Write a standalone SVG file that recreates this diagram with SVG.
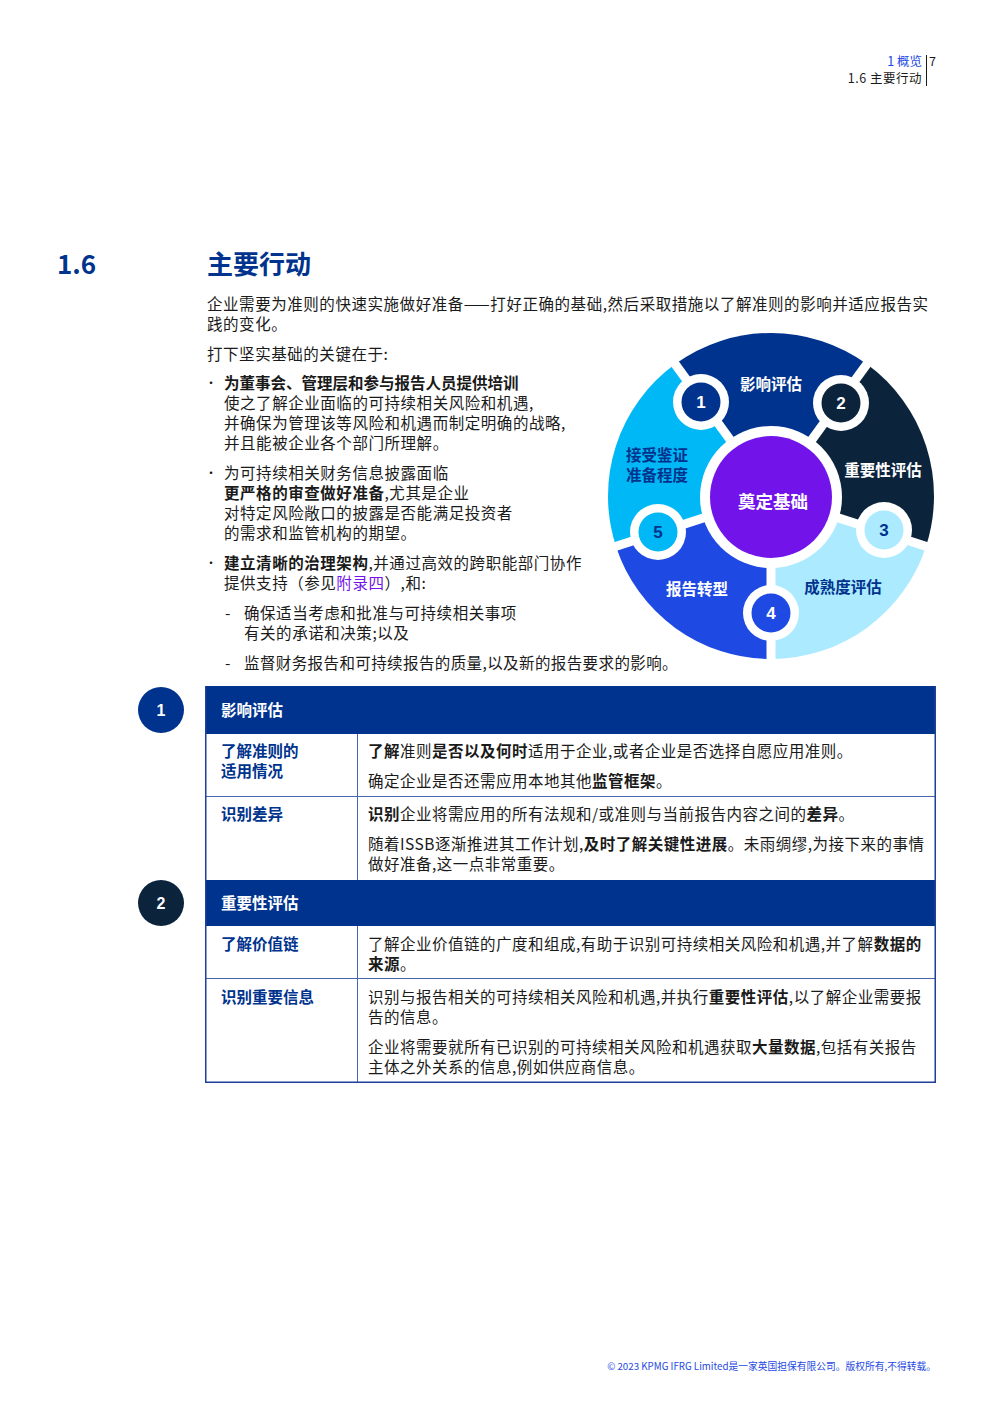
<svg xmlns="http://www.w3.org/2000/svg" width="992" height="1403" viewBox="0 0 992 1403">
<style>
text{font-family:'Noto Sans CJK SC','Liberation Sans',sans-serif;}
.t{font-size:15.5px;fill:#1a1a1a;letter-spacing:0.55px;}
.dot{font-size:12px;fill:#1a1a1a;}
.b{font-weight:bold;}
.wl{font-size:15.5px;font-weight:bold;text-anchor:middle;}
.num{font-size:17px;font-weight:bold;text-anchor:middle;font-family:'Liberation Sans','Noto Sans CJK SC',sans-serif;}
.gap{stroke:#fff;stroke-width:9;}
.hdr{font-size:12.5px;text-anchor:end;}
.cell{font-size:15.5px;fill:#1a1a1a;letter-spacing:0.5px;}
.lc{font-size:15.5px;font-weight:bold;fill:#00338D;}
.th{font-size:15.5px;font-weight:bold;fill:#fff;}
.grid{stroke:#4a66b0;stroke-width:1;fill:none;}
.outer{stroke:#1f3f9a;stroke-width:1.5;fill:none;}
</style>
<rect width="992" height="1403" fill="#fff"/>

<g id="page-header">
<text class="hdr" x="922" y="66" fill="#1E49E2">1 概览</text>
<text x="929" y="66" font-size="12.5" fill="#1a1a1a">7</text>
<text class="hdr" x="922" y="83" fill="#1a1a1a" style="letter-spacing:0.5px">1.6 主要行动</text>
<line x1="926.5" y1="55" x2="926.5" y2="86" stroke="#1a1a1a" stroke-width="1"/>
</g>

<g id="title">
<text x="57" y="274" font-size="26" font-weight="bold" fill="#00338D">1.6</text>
<text x="207" y="274" font-size="26" font-weight="bold" fill="#00338D">主要行动</text>
</g>

<g id="intro">
<text class="t" x="207" y="310">企业需要为准则的快速实施做好准备——打好正确的基础,然后采取措施以了解准则的影响并适应报告实</text>
<text class="t" x="207" y="330">践的变化。</text>
<text class="t" x="207" y="360">打下坚实基础的关键在于:</text>
</g>

<g id="bullets">
<text class="dot" x="205" y="388">•</text>
<text class="t b" x="224" y="389" style="letter-spacing:0">为董事会、管理层和参与报告人员提供培训</text>
<text class="t" x="224" y="409">使之了解企业面临的可持续相关风险和机遇,</text>
<text class="t" x="224" y="429">并确保为管理该等风险和机遇而制定明确的战略,</text>
<text class="t" x="224" y="449">并且能被企业各个部门所理解。</text>

<text class="dot" x="205" y="478">•</text>
<text class="t" x="224" y="479">为可持续相关财务信息披露面临</text>
<text class="t" x="224" y="499"><tspan class="b">更严格的审查做好准备</tspan>,尤其是企业</text>
<text class="t" x="224" y="519">对特定风险敞口的披露是否能满足投资者</text>
<text class="t" x="224" y="539">的需求和监管机构的期望。</text>

<text class="dot" x="205" y="568">•</text>
<text class="t" x="224" y="569"><tspan class="b">建立清晰的治理架构</tspan>,并通过高效的跨职能部门协作</text>
<text class="t" x="224" y="589">提供支持（参见<tspan fill="#7213EA">附录四</tspan>）,和:</text>

<text class="t" x="225" y="619">-</text>
<text class="t" x="244" y="619">确保适当考虑和批准与可持续相关事项</text>
<text class="t" x="244" y="639">有关的承诺和决策;以及</text>
<text class="t" x="225" y="669">-</text>
<text class="t" x="244" y="669" style="letter-spacing:0.4px">监督财务报告和可持续报告的质量,以及新的报告要求的影响。</text>
</g>

<g id="wheel">
<g id="seg-1">
<path d="M771,496 L675.2,364.1 A163,163 0 0 1 866.8,364.1 Z" fill="#00338D"/>
<text class="wl" x="771" y="390" fill="#fff">影响评估</text>
</g>
<g id="seg-2">
<path d="M771,496 L866.8,364.1 A163,163 0 0 1 926,546.4 Z" fill="#0C233C"/>
<text class="wl" x="883" y="476" fill="#fff">重要性评估</text>
</g>
<g id="seg-3">
<path d="M771,496 L926,546.4 A163,163 0 0 1 771,659 Z" fill="#ACEAFF"/>
<text class="wl" x="843" y="593" fill="#00338D">成熟度评估</text>
</g>
<g id="seg-4">
<path d="M771,496 L771,659 A163,163 0 0 1 616,546.4 Z" fill="#1E49E2"/>
<text class="wl" x="697" y="595" fill="#fff">报告转型</text>
</g>
<g id="seg-5">
<path d="M771,496 L616,546.4 A163,163 0 0 1 675.2,364.1 Z" fill="#00B8F5"/>
<text class="wl" x="657" y="461" fill="#00338D">接受鉴证</text>
<text class="wl" x="657" y="481" fill="#00338D">准备程度</text>
</g>
<g id="gaps">
<line class="gap" x1="771" y1="496" x2="932.7" y2="548.5"/>
<line class="gap" x1="771" y1="496" x2="771" y2="666"/>
<line class="gap" x1="771" y1="496" x2="609.3" y2="548.5"/>
<line class="gap" x1="771" y1="496" x2="671.1" y2="358.5"/>
<line class="gap" x1="771" y1="496" x2="870.9" y2="358.5"/>
</g>
<g id="center">
<circle cx="771" cy="497" r="71" fill="#fff"/>
<circle cx="771" cy="497" r="61" fill="#7213EA"/>
<text class="wl" x="773" y="508" fill="#fff" style="font-size:17.5px">奠定基础</text>
</g>
<g id="num-1">
<circle cx="701" cy="402" r="28" fill="#fff"/>
<circle cx="701" cy="402" r="19.5" fill="#00338D"/>
<text class="num" x="701" y="408" fill="#fff">1</text>
</g>
<g id="num-2">
<circle cx="841" cy="403" r="28" fill="#fff"/>
<circle cx="841" cy="403" r="19.5" fill="#0C233C"/>
<text class="num" x="841" y="409" fill="#fff">2</text>
</g>
<g id="num-3">
<circle cx="884" cy="530" r="28" fill="#fff"/>
<circle cx="884" cy="530" r="19.5" fill="#ACEAFF"/>
<text class="num" x="884" y="536" fill="#00338D">3</text>
</g>
<g id="num-4">
<circle cx="771" cy="613" r="28" fill="#fff"/>
<circle cx="771" cy="613" r="19.5" fill="#1E49E2"/>
<text class="num" x="771" y="619" fill="#fff">4</text>
</g>
<g id="num-5">
<circle cx="658" cy="532" r="28" fill="#fff"/>
<circle cx="658" cy="532" r="19.5" fill="#00B8F5"/>
<text class="num" x="658" y="538" fill="#00338D">5</text>
</g>
</g>

<g id="table">
<g id="badge-1">
<circle cx="161" cy="710" r="23" fill="#00338D"/>
<text class="num" x="161" y="716" fill="#fff" style="font-size:16px">1</text>
</g>
<g id="badge-2">
<circle cx="161" cy="903" r="23" fill="#0C233C"/>
<text class="num" x="161" y="909" fill="#fff" style="font-size:16px">2</text>
</g>

<rect x="205" y="686" width="731" height="48" fill="#00338D"/>
<rect x="205" y="880" width="731" height="46" fill="#00338D"/>
<line class="grid" x1="205" y1="796.5" x2="936" y2="796.5"/>
<line class="grid" x1="205" y1="978.5" x2="936" y2="978.5"/>
<line class="grid" x1="357.5" y1="734" x2="357.5" y2="880"/>
<line class="grid" x1="357.5" y1="926" x2="357.5" y2="1083"/>
<line class="outer" x1="205.75" y1="686" x2="205.75" y2="1083"/>
<line class="outer" x1="935.25" y1="686" x2="935.25" y2="1083"/>
<line class="outer" x1="205" y1="1082.25" x2="936" y2="1082.25"/>

<text class="th" x="221" y="716">影响评估</text>
<text class="lc" x="221" y="757">了解准则的</text>
<text class="lc" x="221" y="777">适用情况</text>
<text class="cell" x="368" y="757"><tspan class="b">了解</tspan>准则<tspan class="b">是否以及何时</tspan>适用于企业,或者企业是否选择自愿应用准则。</text>
<text class="cell" x="368" y="787">确定企业是否还需应用本地其他<tspan class="b">监管框架</tspan>。</text>

<text class="lc" x="221" y="820">识别差异</text>
<text class="cell" x="368" y="820"><tspan class="b">识别</tspan>企业将需应用的所有法规和/或准则与当前报告内容之间的<tspan class="b">差异</tspan>。</text>
<text class="cell" x="368" y="850">随着ISSB逐渐推进其工作计划,<tspan class="b">及时了解关键性进展</tspan>。未雨绸缪,为接下来的事情</text>
<text class="cell" x="368" y="870">做好准备,这一点非常重要。</text>

<text class="th" x="221" y="909">重要性评估</text>
<text class="lc" x="221" y="950">了解价值链</text>
<text class="cell" x="368" y="950">了解企业价值链的广度和组成,有助于识别可持续相关风险和机遇,并了解<tspan class="b">数据的</tspan></text>
<text class="cell" x="368" y="970"><tspan class="b">来源</tspan>。</text>

<text class="lc" x="221" y="1003">识别重要信息</text>
<text class="cell" x="368" y="1003">识别与报告相关的可持续相关风险和机遇,并执行<tspan class="b">重要性评估</tspan>,以了解企业需要报</text>
<text class="cell" x="368" y="1023">告的信息。</text>
<text class="cell" x="368" y="1053">企业将需要就所有已识别的可持续相关风险和机遇获取<tspan class="b">大量数据</tspan>,包括有关报告</text>
<text class="cell" x="368" y="1073">主体之外关系的信息,例如供应商信息。</text>
</g>

<g id="footer">
<text x="936" y="1370" font-size="9.75" text-anchor="end" fill="#1E49E2">© 2023 KPMG IFRG Limited是一家英国担保有限公司。版权所有,不得转载。</text>
</g>
</svg>
